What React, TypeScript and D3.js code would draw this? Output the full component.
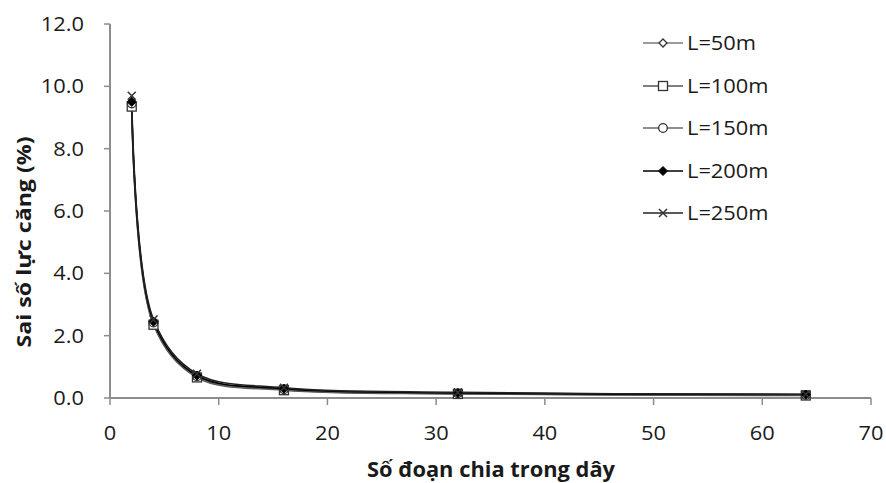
import React from "react";
import * as d3 from "d3";

const xValues = [2, 4, 8, 16, 32, 64];
const seriesNames = ["L=50m", "L=100m", "L=150m", "L=200m", "L=250m"];
const l50 = [9.4, 2.38, 0.68, 0.27, 0.14, 0.09];
const l100 = [9.35, 2.35, 0.66, 0.25, 0.13, 0.08];
const l150 = [9.45, 2.42, 0.7, 0.28, 0.15, 0.1];
const l200 = [9.5, 2.45, 0.72, 0.3, 0.16, 0.11];
const l250 = [9.7, 2.52, 0.78, 0.33, 0.18, 0.12];
const xTicks = [0, 10, 20, 30, 40, 50, 60, 70];
const yTicks = [0, 2, 4, 6, 8, 10, 12];

const allSeries = [l50, l100, l150, l200, l250];
const colors = ["#7a7a7a", "#555", "#6a6a6a", "#000", "#222"];
const markers = ["diamond", "square", "circle", "fdiamond", "x"];

const W = 886, H = 483;
const left = 110, right = 871, top = 24, bottom = 398;
const font = "'Open Sans', sans-serif";
const SX = 1.12;

function T({ x, y, anchor = "start", size = 19.5, weight = "normal", children }: any) {
  return (
    <text
      transform={`translate(${x},${y}) scale(${SX},1)`}
      textAnchor={anchor}
      fontFamily={font}
      fontSize={size}
      fontWeight={weight}
      fill="#1a1a1a"
    >
      {children}
    </text>
  );
}

function Marker({ kind, x, y, color }: { kind: string; x: number; y: number; color: string }) {
  const s = 4;
  if (kind === "diamond")
    return <path d={`M${x},${y - s}L${x + s},${y}L${x},${y + s}L${x - s},${y}Z`} fill="#fff" stroke={color} strokeWidth={1.3} />;
  if (kind === "fdiamond")
    return <path d={`M${x},${y - s - 0.5}L${x + s + 0.5},${y}L${x},${y + s + 0.5}L${x - s - 0.5},${y}Z`} fill="#000" stroke="#000" strokeWidth={1} />;
  if (kind === "square")
    return <rect x={x - 4.5} y={y - 4.5} width={9} height={9} fill="#fff" stroke={color} strokeWidth={1.3} />;
  if (kind === "circle")
    return <circle cx={x} cy={y} r={4.3} fill="#fff" stroke={color} strokeWidth={1.3} />;
  return (
    <path d={`M${x - 4},${y - 4}L${x + 4},${y + 4}M${x + 4},${y - 4}L${x - 4},${y + 4}`} stroke={color} strokeWidth={1.5} fill="none" />
  );
}

export default function App() {
  const x = d3.scaleLinear().domain([0, 70]).range([left, right]);
  const y = d3.scaleLinear().domain([0, 12]).range([bottom, top]);
  const line = d3
    .line<number>()
    .x((_, i) => x(xValues[i]))
    .y((d) => y(d))
    .curve(d3.curveCatmullRom.alpha(0.5));

  const legendY = [43, 86, 128, 171, 213];

  return (
    <svg width={W} height={H} style={{ position: "absolute", left: 0, top: 0, background: "#fff" }}>
      <rect width={W} height={H} fill="#fff" />
      {/* axes */}
      <line x1={left} x2={left} y1={top} y2={bottom} stroke="#8c8c8c" strokeWidth={2} />
      <line x1={left} x2={right} y1={bottom} y2={bottom} stroke="#8c8c8c" strokeWidth={2} />
      {yTicks.map((t) => (
        <g key={"y" + t}>
          <line x1={left - 6} x2={left} y1={y(t)} y2={y(t)} stroke="#8c8c8c" strokeWidth={1.5} />
          <T x={left - 26} y={y(t) + 7} anchor="end">
            {t.toFixed(1)}
          </T>
        </g>
      ))}
      {xTicks.map((t) => (
        <g key={"x" + t}>
          <line x1={x(t)} x2={x(t)} y1={bottom} y2={bottom + 7} stroke="#8c8c8c" strokeWidth={1.5} />
          <T x={x(t)} y={bottom + 42} anchor="middle">
            {t}
          </T>
        </g>
      ))}
      {/* series */}
      {allSeries.map((s, i) => (
        <path key={"l" + i} d={line(s) || ""} fill="none" stroke={colors[i]} strokeWidth={1.6} />
      ))}
      {allSeries.map((s, i) =>
        s.map((v, j) => (
          <Marker key={`m${i}-${j}`} kind={markers[i]} x={x(xValues[j])} y={y(v)} color={colors[i] === "#000" ? "#000" : "#333"} />
        ))
      )}
      {/* legend */}
      {seriesNames.map((n, i) => (
        <g key={"lg" + i}>
          <line x1={643} x2={683} y1={legendY[i]} y2={legendY[i]} stroke={colors[i]} strokeWidth={1.6} />
          <Marker kind={markers[i]} x={663} y={legendY[i]} color={colors[i] === "#000" ? "#000" : "#333"} />
          <T x={687} y={legendY[i] + 7}>
            {n}
          </T>
        </g>
      ))}
      {/* titles */}
      <text
        transform={`translate(31,242) rotate(-90)`}
        textAnchor="middle"
        fontFamily={font}
        fontWeight="bold"
        fontSize={20}
        textLength={211}
        lengthAdjust="spacingAndGlyphs"
        fill="#1a1a1a"
      >
        Sai số lực căng (%)
      </text>
      <text
        x={491}
        y={477}
        textAnchor="middle"
        fontFamily={font}
        fontWeight="bold"
        fontSize={21}
        textLength={248}
        lengthAdjust="spacingAndGlyphs"
        fill="#1a1a1a"
      >
        Số đoạn chia trong dây
      </text>
    </svg>
  );
}
